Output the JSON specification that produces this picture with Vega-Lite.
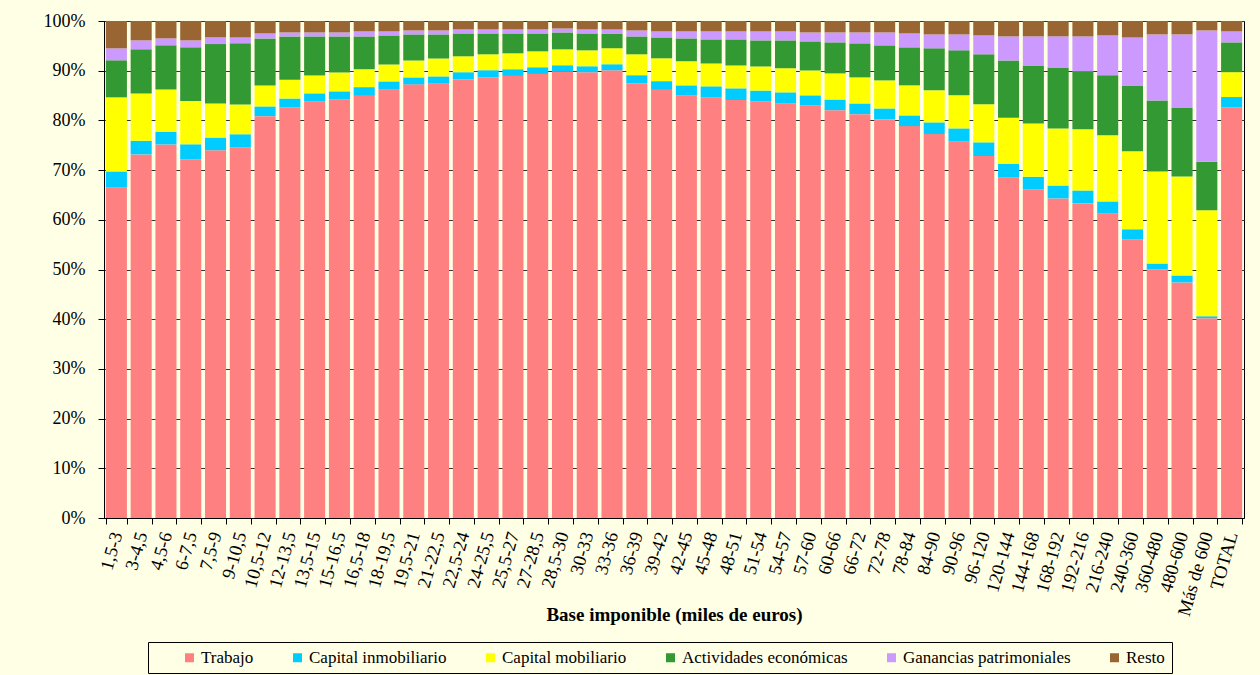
{
  "$schema": "https://vega.github.io/schema/vega-lite/v6.json",
  "width": 1140,
  "height": 497,
  "autosize": {"type": "none"},
  "padding": {"left": 104, "top": 21, "right": 16, "bottom": 157},
  "background": "#FFFFE6",
  "config": {
    "font": "Liberation Serif",
    "view": {"stroke": "#000000", "strokeWidth": 1},
    "axis": {
      "labelFont": "Liberation Serif",
      "titleFont": "Liberation Serif",
      "labelColor": "#000000",
      "titleColor": "#000000",
      "domainColor": "#000000",
      "tickColor": "#000000",
      "tickSize": 6
    }
  },
  "datasets": {
    "wide": [
      {"tramo": "1,5-3", "Trabajo": 66.5, "CI": 3.2, "CM": 14.9, "AE": 7.45, "GP": 2.4, "Resto": 5.5},
      {"tramo": "3-4,5", "Trabajo": 73.2, "CI": 2.75, "CM": 9.5, "AE": 8.9, "GP": 1.8, "Resto": 3.9},
      {"tramo": "4,5-6", "Trabajo": 75.2, "CI": 2.55, "CM": 8.5, "AE": 8.9, "GP": 1.4, "Resto": 3.5},
      {"tramo": "6-7,5", "Trabajo": 72.15, "CI": 3.0, "CM": 8.7, "AE": 10.8, "GP": 1.4, "Resto": 3.9},
      {"tramo": "7,5-9", "Trabajo": 74.0, "CI": 2.55, "CM": 6.85, "AE": 11.95, "GP": 1.35, "Resto": 3.3},
      {"tramo": "9-10,5", "Trabajo": 74.6, "CI": 2.6, "CM": 6.0, "AE": 12.3, "GP": 1.2, "Resto": 3.3},
      {"tramo": "10,5-12", "Trabajo": 80.9, "CI": 1.95, "CM": 4.2, "AE": 9.5, "GP": 1.0, "Resto": 2.5},
      {"tramo": "12-13,5", "Trabajo": 82.6, "CI": 1.8, "CM": 3.8, "AE": 8.7, "GP": 0.8, "Resto": 2.3},
      {"tramo": "13,5-15", "Trabajo": 83.8, "CI": 1.6, "CM": 3.6, "AE": 7.85, "GP": 0.8, "Resto": 2.3},
      {"tramo": "15-16,5", "Trabajo": 84.2, "CI": 1.6, "CM": 3.8, "AE": 7.25, "GP": 0.8, "Resto": 2.3},
      {"tramo": "16,5-18", "Trabajo": 84.9, "CI": 1.75, "CM": 3.6, "AE": 6.6, "GP": 1.0, "Resto": 2.1},
      {"tramo": "18-19,5", "Trabajo": 86.2, "CI": 1.6, "CM": 3.4, "AE": 5.85, "GP": 0.8, "Resto": 2.1},
      {"tramo": "19,5-21", "Trabajo": 87.25, "CI": 1.4, "CM": 3.4, "AE": 5.25, "GP": 0.8, "Resto": 1.9},
      {"tramo": "21-22,5", "Trabajo": 87.45, "CI": 1.4, "CM": 3.6, "AE": 4.85, "GP": 0.8, "Resto": 1.9},
      {"tramo": "22,5-24", "Trabajo": 88.25, "CI": 1.4, "CM": 3.2, "AE": 4.6, "GP": 0.8, "Resto": 1.7},
      {"tramo": "24-25,5", "Trabajo": 88.65, "CI": 1.4, "CM": 3.2, "AE": 4.2, "GP": 0.8, "Resto": 1.7},
      {"tramo": "25,5-27", "Trabajo": 88.9, "CI": 1.35, "CM": 3.2, "AE": 4.0, "GP": 0.8, "Resto": 1.7},
      {"tramo": "27-28,5", "Trabajo": 89.3, "CI": 1.35, "CM": 3.2, "AE": 3.6, "GP": 0.8, "Resto": 1.7},
      {"tramo": "28,5-30", "Trabajo": 89.85, "CI": 1.2, "CM": 3.2, "AE": 3.4, "GP": 0.8, "Resto": 1.5},
      {"tramo": "30-33", "Trabajo": 89.65, "CI": 1.2, "CM": 3.2, "AE": 3.4, "GP": 0.8, "Resto": 1.7},
      {"tramo": "33-36", "Trabajo": 90.05, "CI": 1.2, "CM": 3.2, "AE": 3.0, "GP": 0.8, "Resto": 1.7},
      {"tramo": "36-39", "Trabajo": 87.45, "CI": 1.6, "CM": 4.2, "AE": 3.6, "GP": 1.2, "Resto": 1.9},
      {"tramo": "39-42", "Trabajo": 86.1, "CI": 1.75, "CM": 4.6, "AE": 4.2, "GP": 1.2, "Resto": 2.1},
      {"tramo": "42-45", "Trabajo": 85.05, "CI": 2.0, "CM": 4.85, "AE": 4.6, "GP": 1.4, "Resto": 2.1},
      {"tramo": "45-48", "Trabajo": 84.65, "CI": 2.2, "CM": 4.6, "AE": 4.85, "GP": 1.6, "Resto": 2.1},
      {"tramo": "48-51", "Trabajo": 84.1, "CI": 2.35, "CM": 4.6, "AE": 5.25, "GP": 1.6, "Resto": 2.1},
      {"tramo": "51-54", "Trabajo": 83.8, "CI": 2.2, "CM": 4.85, "AE": 5.25, "GP": 1.8, "Resto": 2.1},
      {"tramo": "54-57", "Trabajo": 83.4, "CI": 2.2, "CM": 4.85, "AE": 5.6, "GP": 1.8, "Resto": 2.1},
      {"tramo": "57-60", "Trabajo": 83.0, "CI": 2.0, "CM": 5.0, "AE": 5.85, "GP": 1.8, "Resto": 2.3},
      {"tramo": "60-66", "Trabajo": 82.1, "CI": 2.15, "CM": 5.25, "AE": 6.25, "GP": 2.0, "Resto": 2.3},
      {"tramo": "66-72", "Trabajo": 81.3, "CI": 2.15, "CM": 5.25, "AE": 6.85, "GP": 2.2, "Resto": 2.3},
      {"tramo": "72-78", "Trabajo": 80.2, "CI": 2.2, "CM": 5.65, "AE": 7.05, "GP": 2.6, "Resto": 2.3},
      {"tramo": "78-84", "Trabajo": 78.85, "CI": 2.15, "CM": 6.05, "AE": 7.65, "GP": 2.8, "Resto": 2.5},
      {"tramo": "84-90", "Trabajo": 77.25, "CI": 2.35, "CM": 6.45, "AE": 8.45, "GP": 2.8, "Resto": 2.7},
      {"tramo": "90-96", "Trabajo": 75.75, "CI": 2.6, "CM": 6.65, "AE": 9.05, "GP": 3.2, "Resto": 2.7},
      {"tramo": "96-120", "Trabajo": 72.8, "CI": 2.75, "CM": 7.65, "AE": 10.05, "GP": 3.8, "Resto": 2.9},
      {"tramo": "120-144", "Trabajo": 68.5, "CI": 2.8, "CM": 9.25, "AE": 11.5, "GP": 4.85, "Resto": 3.1},
      {"tramo": "144-168", "Trabajo": 66.1, "CI": 2.6, "CM": 10.7, "AE": 11.7, "GP": 5.85, "Resto": 3.1},
      {"tramo": "168-192", "Trabajo": 64.4, "CI": 2.6, "CM": 11.5, "AE": 12.3, "GP": 6.25, "Resto": 3.1},
      {"tramo": "192-216", "Trabajo": 63.3, "CI": 2.6, "CM": 12.3, "AE": 11.65, "GP": 7.05, "Resto": 3.1},
      {"tramo": "216-240", "Trabajo": 61.3, "CI": 2.4, "CM": 13.3, "AE": 12.1, "GP": 8.0, "Resto": 2.9},
      {"tramo": "240-360", "Trabajo": 56.1, "CI": 2.0, "CM": 15.7, "AE": 13.2, "GP": 9.7, "Resto": 3.3},
      {"tramo": "360-480", "Trabajo": 50.0, "CI": 1.2, "CM": 18.5, "AE": 14.3, "GP": 13.3, "Resto": 2.7},
      {"tramo": "480-600", "Trabajo": 47.4, "CI": 1.4, "CM": 19.9, "AE": 13.9, "GP": 14.7, "Resto": 2.7},
      {"tramo": "Más de 600", "Trabajo": 40.2, "CI": 0.4, "CM": 21.3, "AE": 9.8, "GP": 26.4, "Resto": 1.9},
      {"tramo": "TOTAL", "Trabajo": 82.6, "CI": 2.1, "CM": 5.0, "AE": 6.0, "GP": 2.2, "Resto": 2.1}
    ],
    "fuentes": [
      {"clave": "Trabajo", "fuente": "Trabajo", "orden": 1},
      {"clave": "CI", "fuente": "Capital inmobiliario", "orden": 2},
      {"clave": "CM", "fuente": "Capital mobiliario", "orden": 3},
      {"clave": "AE", "fuente": "Actividades económicas", "orden": 4},
      {"clave": "GP", "fuente": "Ganancias patrimoniales", "orden": 5},
      {"clave": "Resto", "fuente": "Resto", "orden": 6}
    ]
  },
  "data": {"name": "wide"},
  "transform": [
    {"fold": ["Trabajo", "CI", "CM", "AE", "GP", "Resto"], "as": ["clave", "valor"]},
    {"lookup": "clave", "from": {"data": {"name": "fuentes"}, "key": "clave", "fields": ["fuente", "orden"]}}
  ],
  "mark": {"type": "bar"},
  "encoding": {
    "x": {
      "field": "tramo",
      "type": "nominal",
      "sort": null,
      "scale": {"paddingInner": 0.15, "paddingOuter": 0.075},
      "axis": {
        "title": "Base imponible (miles de euros)",
        "titleFontSize": 19,
        "titleFontWeight": "bold",
        "titleY": 102,
        "titleBaseline": "alphabetic",
        "labelFontSize": 18.5,
        "labelAngle": -74,
        "labelAlign": "right",
        "labelBaseline": "middle",
        "labelPadding": 8,
        "labelOverlap": false,
        "tickBand": "extent",
        "grid": false
      }
    },
    "y": {
      "field": "valor",
      "type": "quantitative",
      "stack": "normalize",
      "scale": {"domain": [0, 1], "nice": false},
      "axis": {
        "title": null,
        "format": ".0%",
        "values": [0, 0.1, 0.2, 0.3, 0.4, 0.5, 0.6, 0.7, 0.8, 0.9, 1],
        "labelFontSize": 18,
        "labelPadding": 13,
        "grid": true,
        "gridColor": "#333333",
        "gridWidth": 1
      }
    },
    "color": {
      "field": "fuente",
      "type": "nominal",
      "scale": {
        "domain": ["Trabajo", "Capital inmobiliario", "Capital mobiliario", "Actividades económicas", "Ganancias patrimoniales", "Resto"],
        "range": ["#FF8080", "#00CCFF", "#FFFF00", "#339933", "#CC99FF", "#996633"]
      },
      "legend": {
        "title": null,
        "orient": "none",
        "legendX": 44,
        "legendY": 621,
        "direction": "horizontal",
        "columns": 6,
        "symbolType": "square",
        "symbolSize": 81,
        "symbolStrokeWidth": 0,
        "symbolOffset": 26,
        "labelFontSize": 17,
        "labelFont": "Liberation Serif",
        "labelColor": "#000000",
        "labelOffset": 3,
        "labelLimit": 300,
        "columnPadding": 9,
        "padding": 7,
        "strokeColor": "#000000",
        "fillColor": "#FFFFE6"
      }
    },
    "order": {"field": "orden", "type": "quantitative", "sort": "ascending"}
  }
}
